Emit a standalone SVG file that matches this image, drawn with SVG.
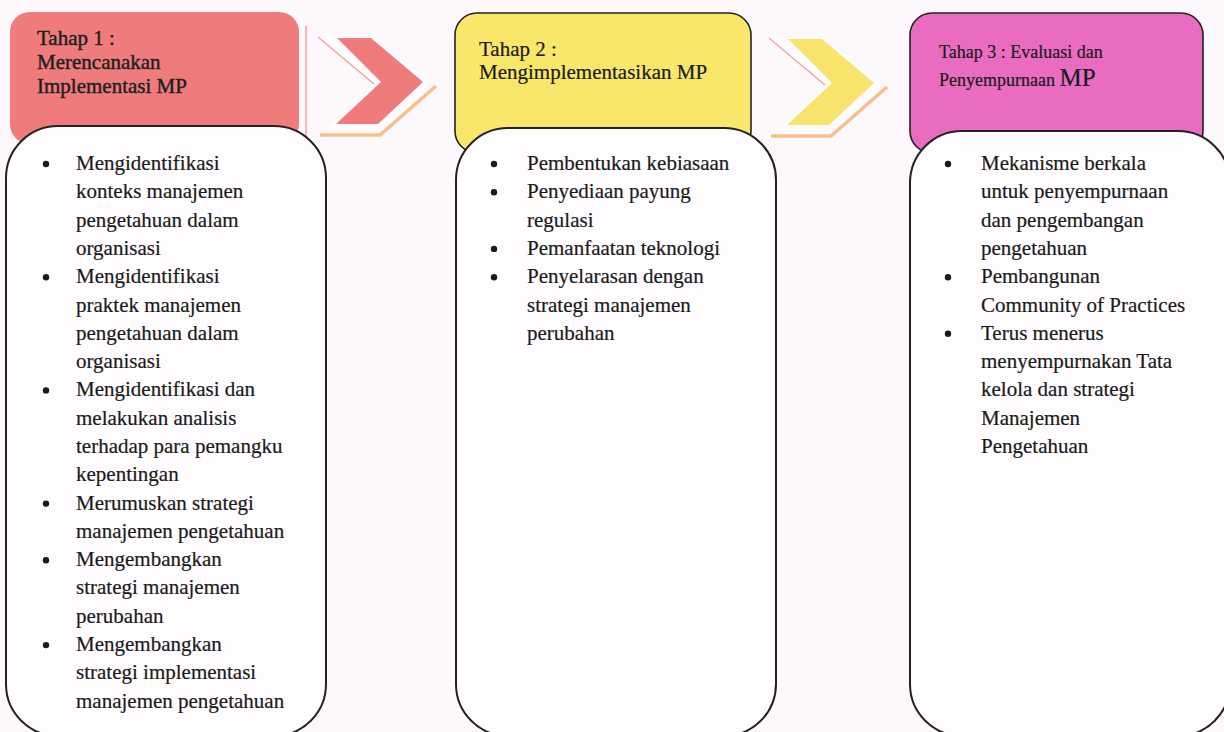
<svg xmlns="http://www.w3.org/2000/svg" width="1224" height="732" viewBox="0 0 1224 732">
<style>
.bg{fill:#fcf8fb}
.body{fill:#fefcfe;stroke:#222;stroke-width:2}
.hdr{stroke:#222;stroke-width:1.6}
.t{font-family:"Liberation Serif","Times New Roman",serif;fill:#1a1a1a;stroke:#1a1a1a;stroke-width:0.2}
.b{font-size:21px}
.bul{fill:#1a1a1a}
.backline{fill:none;stroke:#f2a7a0;stroke-width:1.5}
.backbase{fill:none;stroke:#f5c08c;stroke-width:3.5;stroke-linejoin:miter}
</style>
<rect class="bg" x="0" y="0" width="1224" height="732"/>

<g id="connectors">
  <g id="chevron1">
    <polygon points="318,37 374,84 320,135 380,135 436,86 372,37" fill="#fefcfe" stroke="none"/>
    <line class="backline" x1="318" y1="37" x2="374" y2="84"/>
    <polyline class="backbase" points="320,135 380,135 436,86"/>
    <polygon points="337,38 371,38 423,82 378,124 336,124 381,82" fill="#f07b7d"/>
  </g>
  <g id="chevron2">
    <polygon points="769,38 825,85 771,136 831,136 887,87 823,38" fill="#fefcfe" stroke="none"/>
    <line class="backline" x1="769" y1="38" x2="825" y2="85"/>
    <polyline class="backbase" points="771,136 831,136 887,87"/>
    <polygon points="788,39 822,39 874,83 829,125 787,125 832,83" fill="#f8e46c"/>
  </g>
</g>

<g id="stage1">
  <rect x="10" y="12" width="289" height="132" rx="20" fill="#f07b7d"/>
  <line x1="306" y1="26" x2="306" y2="138" stroke="#f2a0a0" stroke-width="1.5"/>
  <text class="t" font-size="21" fill="#2a2a2a" style="stroke:#2a2a2a;stroke-width:0.45"><tspan x="37" y="45">Tahap 1 :</tspan><tspan x="37" y="69">Merencanakan</tspan><tspan x="37" y="93">Implementasi MP</tspan></text>
  <rect class="body" x="6" y="126" width="320" height="610" rx="52"/>
  <g class="bul">
    <circle cx="46" cy="164" r="3.2"/>
    <circle cx="46" cy="277.2" r="3.2"/>
    <circle cx="46" cy="390.4" r="3.2"/>
    <circle cx="46" cy="503.6" r="3.2"/>
    <circle cx="46" cy="560.2" r="3.2"/>
    <circle cx="46" cy="645.1" r="3.2"/>
  </g>
  <text class="t b">
    <tspan x="76" y="170">Mengidentifikasi</tspan>
    <tspan x="76" dy="28.3">konteks manajemen</tspan>
    <tspan x="76" dy="28.3">pengetahuan dalam</tspan>
    <tspan x="76" dy="28.3">organisasi</tspan>
    <tspan x="76" dy="28.3">Mengidentifikasi</tspan>
    <tspan x="76" dy="28.3">praktek manajemen</tspan>
    <tspan x="76" dy="28.3">pengetahuan dalam</tspan>
    <tspan x="76" dy="28.3">organisasi</tspan>
    <tspan x="76" dy="28.3">Mengidentifikasi  dan</tspan>
    <tspan x="76" dy="28.3">melakukan analisis</tspan>
    <tspan x="76" dy="28.3">terhadap para pemangku</tspan>
    <tspan x="76" dy="28.3">kepentingan</tspan>
    <tspan x="76" dy="28.3">Merumuskan strategi</tspan>
    <tspan x="76" dy="28.3">manajemen pengetahuan</tspan>
    <tspan x="76" dy="28.3">Mengembangkan</tspan>
    <tspan x="76" dy="28.3">strategi manajemen</tspan>
    <tspan x="76" dy="28.3">perubahan</tspan>
    <tspan x="76" dy="28.3">Mengembangkan</tspan>
    <tspan x="76" dy="28.3">strategi implementasi</tspan>
    <tspan x="76" dy="28.3">manajemen pengetahuan</tspan>
  </text>
</g>

<g id="stage2">
  <rect class="hdr" x="455" y="13" width="296" height="140" rx="22" fill="#f9e76b"/>
  <text class="t" font-size="21"><tspan x="479" y="56">Tahap 2 :</tspan><tspan x="479" y="79">Mengimplementasikan MP</tspan></text>
  <rect class="body" x="456" y="128" width="320" height="608" rx="52"/>
  <g class="bul">
    <circle cx="494" cy="164" r="3.2"/>
    <circle cx="494" cy="192.3" r="3.2"/>
    <circle cx="494" cy="248.9" r="3.2"/>
    <circle cx="494" cy="277.2" r="3.2"/>
  </g>
  <text class="t b">
    <tspan x="527" y="170">Pembentukan kebiasaan</tspan>
    <tspan x="527" dy="28.3">Penyediaan payung</tspan>
    <tspan x="527" dy="28.3">regulasi</tspan>
    <tspan x="527" dy="28.3">Pemanfaatan teknologi</tspan>
    <tspan x="527" dy="28.3">Penyelarasan dengan</tspan>
    <tspan x="527" dy="28.3">strategi manajemen</tspan>
    <tspan x="527" dy="28.3">perubahan</tspan>
  </text>
</g>

<g id="stage3">
  <rect class="hdr" x="910" y="13" width="293" height="140" rx="22" fill="#e96cc0"/>
  <text class="t" font-size="18"><tspan x="939" y="58">Tahap 3 : Evaluasi dan</tspan><tspan x="939" y="86">Penyempurnaan <tspan font-size="25">MP</tspan></tspan></text>
  <rect class="body" x="910" y="131" width="320" height="605" rx="52"/>
  <g class="bul">
    <circle cx="948" cy="164" r="3.2"/>
    <circle cx="948" cy="277.2" r="3.2"/>
    <circle cx="948" cy="333.8" r="3.2"/>
  </g>
  <text class="t b">
    <tspan x="981" y="170">Mekanisme berkala</tspan>
    <tspan x="981" dy="28.3">untuk penyempurnaan</tspan>
    <tspan x="981" dy="28.3">dan pengembangan</tspan>
    <tspan x="981" dy="28.3">pengetahuan</tspan>
    <tspan x="981" dy="28.3">Pembangunan</tspan>
    <tspan x="981" dy="28.3">Community of Practices</tspan>
    <tspan x="981" dy="28.3">Terus menerus</tspan>
    <tspan x="981" dy="28.3">menyempurnakan Tata</tspan>
    <tspan x="981" dy="28.3">kelola dan strategi</tspan>
    <tspan x="981" dy="28.3">Manajemen</tspan>
    <tspan x="981" dy="28.3">Pengetahuan</tspan>
  </text>
</g>
</svg>
